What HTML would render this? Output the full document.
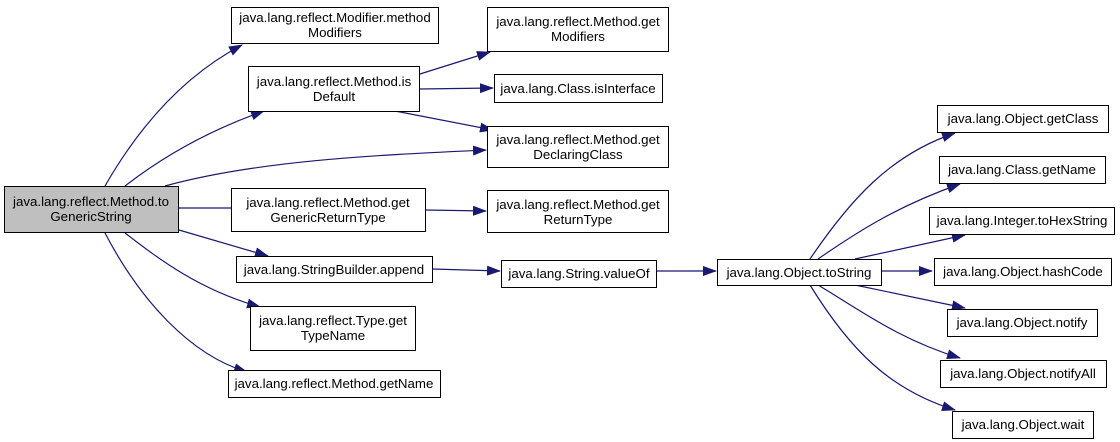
<!DOCTYPE html>
<html><head><meta charset="utf-8"><style>
html,body{margin:0;padding:0;background:#fff;}
svg{display:block;}
text{font-family:"Liberation Sans",Arial,sans-serif;font-size:13.3px;fill:#000;}
</style></head><body>
<svg width="1120" height="442" viewBox="0 0 1120 442" xmlns="http://www.w3.org/2000/svg">
<defs>
<marker id="a" markerWidth="14" markerHeight="10" refX="13" refY="5" orient="auto" markerUnits="userSpaceOnUse">
<path d="M0,0 L14,5 L0,10 Z" fill="#191970"/>
</marker>
</defs>
<g fill="none" stroke="#191970" stroke-width="1.2" marker-end="url(#a)">
<path d="M105,186 C140,125 185,75 242,45"/>
<path d="M125,186 C165,155 210,130 264,111"/>
<path d="M165,186 C260,160 380,155 486,150"/>
<path d="M179,208 L244,208"/>
<path d="M179,230 L268,256"/>
<path d="M125,233 C160,260 200,290 260,307"/>
<path d="M105,233 C140,300 190,355 247,372"/>
<path d="M420,74 L490,52"/>
<path d="M420,89 L493,88"/>
<path d="M395,111 L493,130"/>
<path d="M425,210 L486,211"/>
<path d="M432,269 L500,271"/>
<path d="M656,271 L716,271"/>
<path d="M810,259 C850,200 890,155 955,133"/>
<path d="M818,259 C860,230 900,205 960,184"/>
<path d="M855,259 L965,235"/>
<path d="M881,271 L932,271"/>
<path d="M855,285 L965,308"/>
<path d="M818,285 C860,310 900,340 960,358"/>
<path d="M810,285 C850,350 890,390 955,410"/>
</g>
<g stroke="#000" stroke-width="1" fill="#fff">
<rect x="4.5" y="186.5" width="174" height="46" fill="#bfbfbf"/>
<rect x="231.5" y="7.5" width="207" height="36"/>
<rect x="248.5" y="66.5" width="171" height="45"/>
<rect x="487.5" y="7.5" width="181" height="44"/>
<rect x="494.5" y="74.5" width="168" height="28"/>
<rect x="487.5" y="126.5" width="181" height="41"/>
<rect x="231.5" y="188.5" width="194" height="43"/>
<rect x="487.5" y="190.5" width="181" height="42"/>
<rect x="236.5" y="256.5" width="196" height="26"/>
<rect x="501.5" y="260.5" width="155" height="27"/>
<rect x="717.5" y="259.5" width="164" height="26"/>
<rect x="250.5" y="306.5" width="165" height="44"/>
<rect x="228.5" y="370.5" width="212" height="27"/>
<rect x="937.5" y="105.5" width="171" height="27"/>
<rect x="939.5" y="156.5" width="166" height="27"/>
<rect x="929.5" y="207.5" width="185" height="27"/>
<rect x="934.5" y="258.5" width="177" height="27"/>
<rect x="947.5" y="309.5" width="150" height="27"/>
<rect x="940.5" y="360.5" width="166" height="27"/>
<rect x="952.5" y="411.5" width="141" height="27"/>
</g>
<g text-anchor="middle">
<text x="91" y="206">java.lang.reflect.Method.to</text><text x="91" y="221">GenericString</text>
<text x="335" y="22">java.lang.reflect.Modifier.method</text><text x="335" y="37">Modifiers</text>
<text x="334" y="86">java.lang.reflect.Method.is</text><text x="334" y="101">Default</text>
<text x="578" y="26">java.lang.reflect.Method.get</text><text x="578" y="41">Modifiers</text>
<text x="578" y="93">java.lang.Class.isInterface</text>
<text x="578" y="144">java.lang.reflect.Method.get</text><text x="578" y="159">DeclaringClass</text>
<text x="328" y="207">java.lang.reflect.Method.get</text><text x="328" y="222">GenericReturnType</text>
<text x="578" y="209">java.lang.reflect.Method.get</text><text x="578" y="224">ReturnType</text>
<text x="334" y="274">java.lang.StringBuilder.append</text>
<text x="579" y="278">java.lang.String.valueOf</text>
<text x="799" y="277">java.lang.Object.toString</text>
<text x="333" y="325">java.lang.reflect.Type.get</text><text x="333" y="340">TypeName</text>
<text x="334" y="388">java.lang.reflect.Method.getName</text>
<text x="1023" y="123">java.lang.Object.getClass</text>
<text x="1022" y="174">java.lang.Class.getName</text>
<text x="1022" y="225">java.lang.Integer.toHexString</text>
<text x="1023" y="276">java.lang.Object.hashCode</text>
<text x="1022" y="327">java.lang.Object.notify</text>
<text x="1023" y="378">java.lang.Object.notifyAll</text>
<text x="1023" y="429">java.lang.Object.wait</text>
</g>
</svg>
</body></html>
